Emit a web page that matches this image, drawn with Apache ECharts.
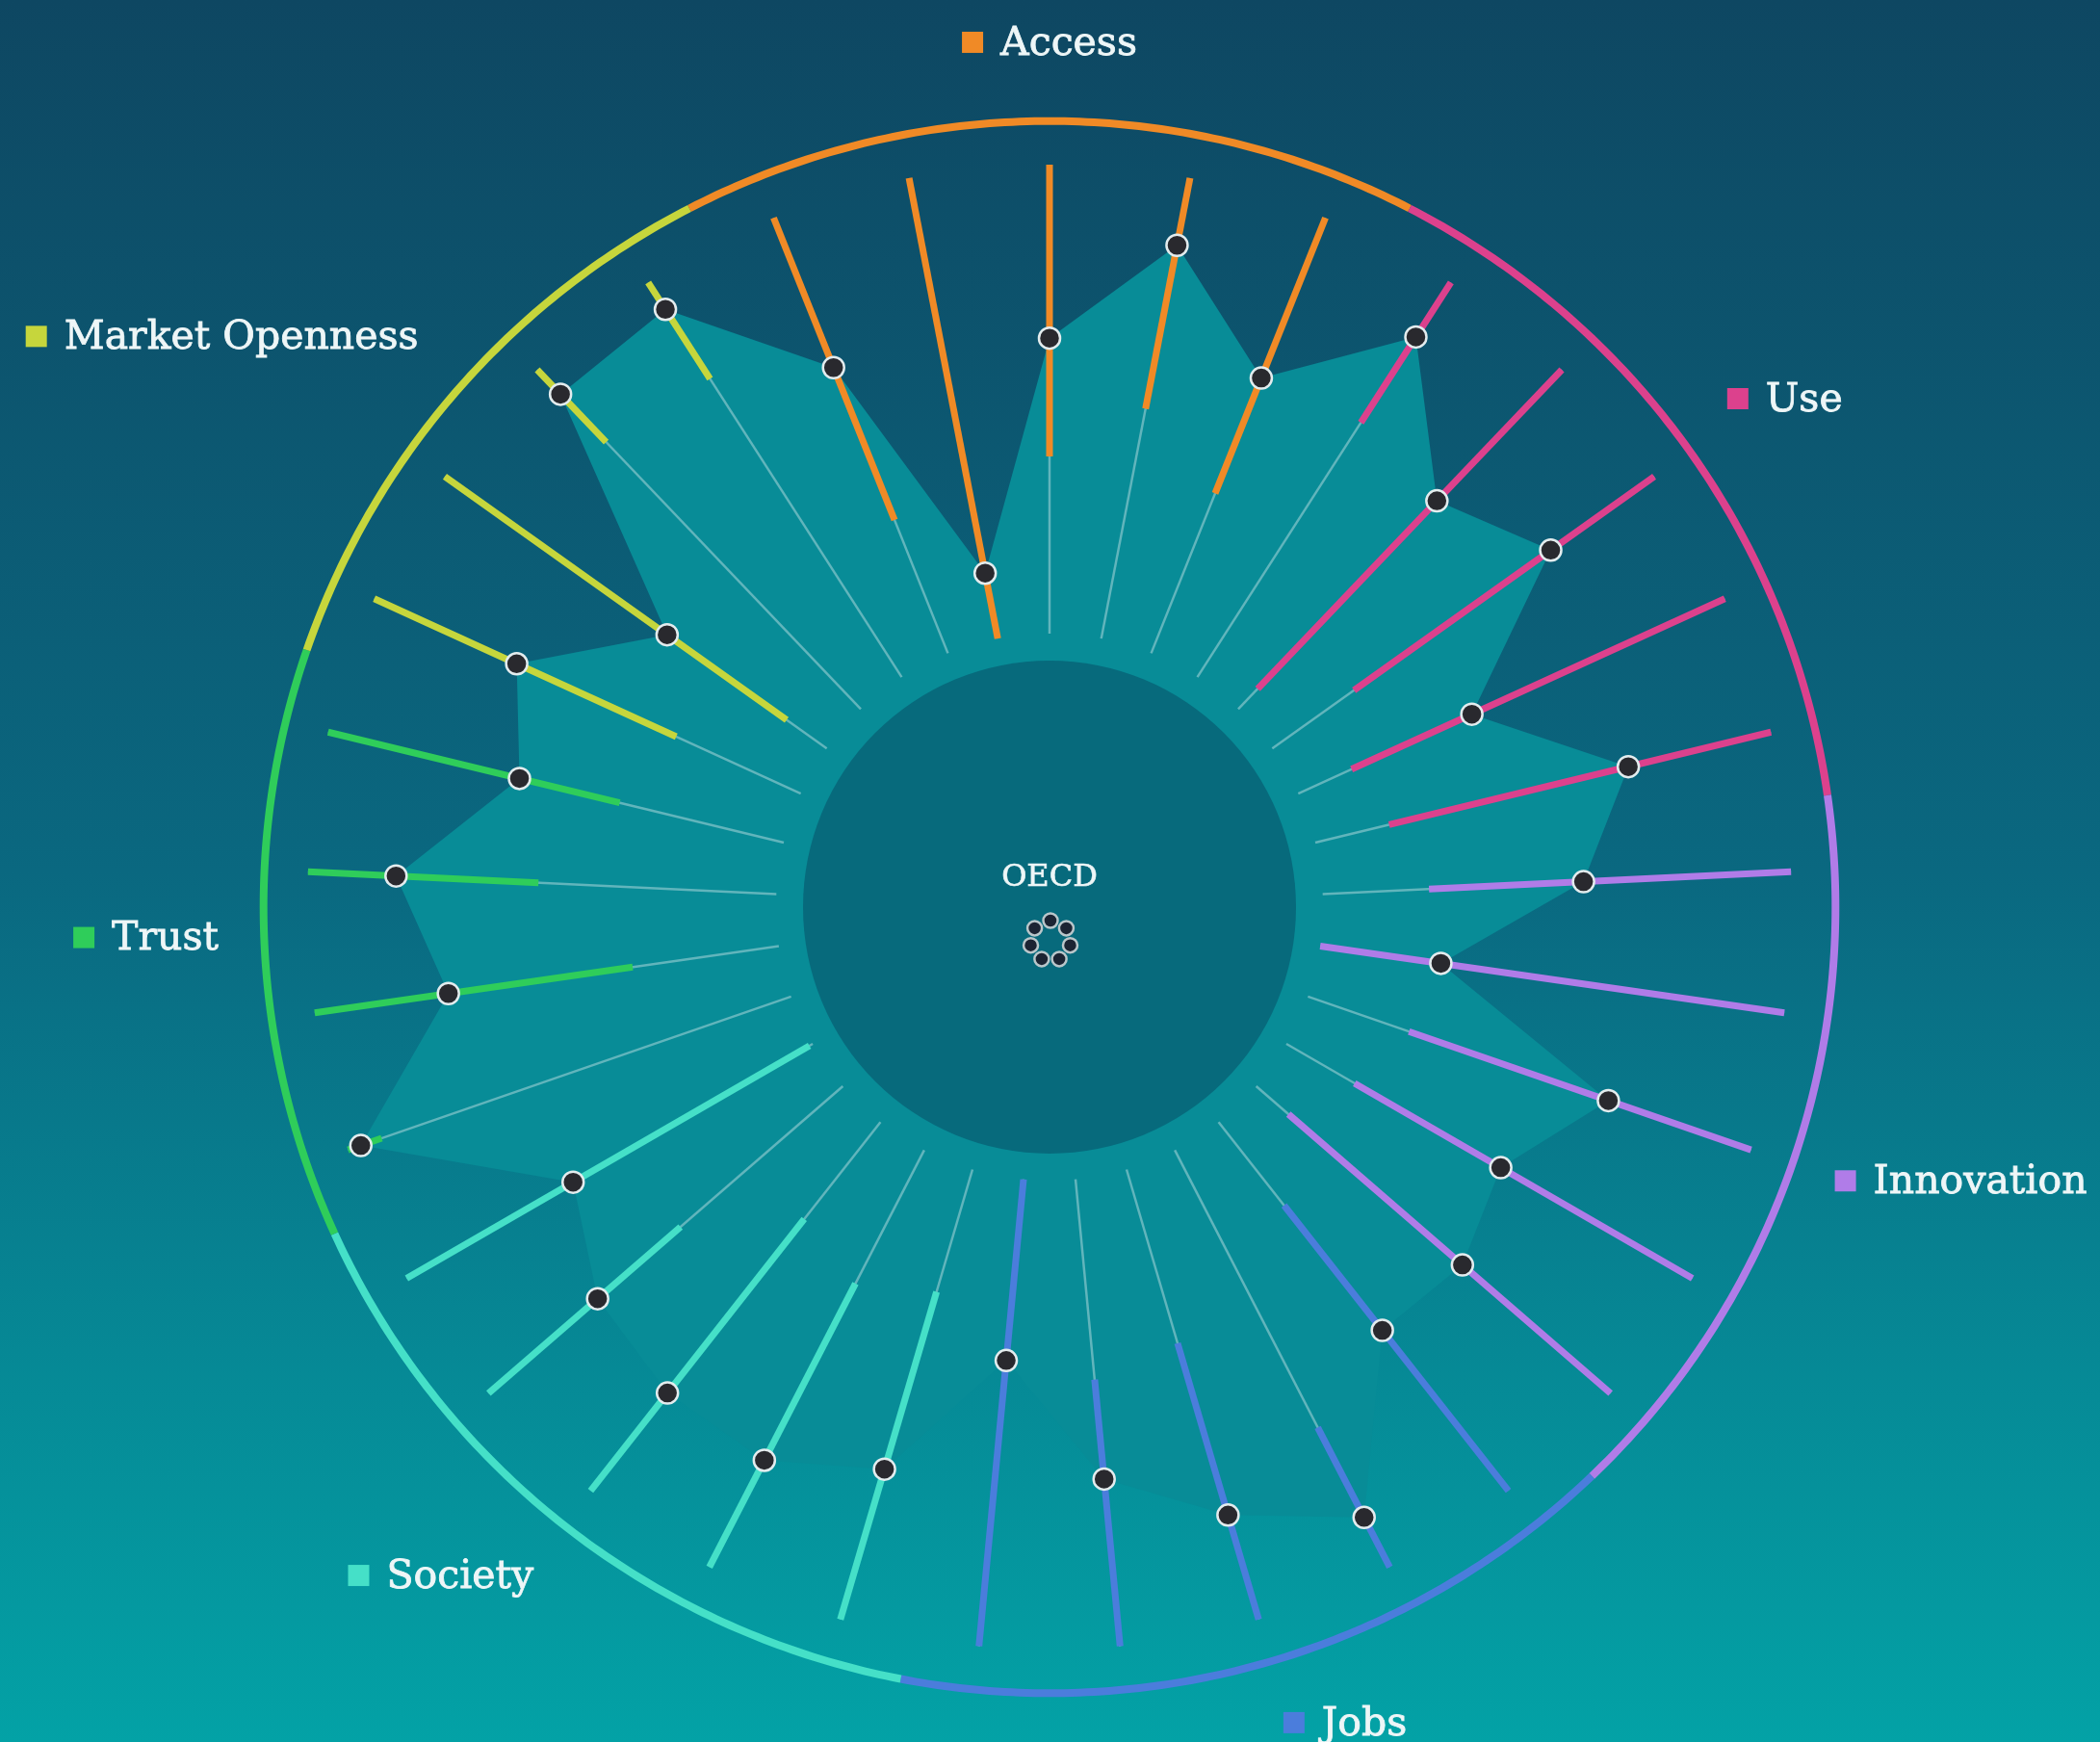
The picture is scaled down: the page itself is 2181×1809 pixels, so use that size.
<!DOCTYPE html>
<html><head><meta charset="utf-8">
<script src="https://cdn.jsdelivr.net/npm/echarts@6/dist/echarts.min.js"></script>
<style>html,body{margin:0;padding:0;width:2181px;height:1809px;overflow:hidden;}#c{width:2181px;height:1809px;}</style>
</head><body><div id="c"></div>
<script>
// ---- data ----
const dimensions = ['Access', 'Use', 'Innovation', 'Jobs', 'Society', 'Trust', 'Market Openness'];
const dimColors = ['#f08a26', '#dc418d', '#b07ce8', '#4b7ddc', '#45e0c8', '#2fcd5a', '#c6d63c'];
const dimCounts = [5, 5, 5, 5, 5, 4, 4];
// OECD value (dot) for each indicator, clockwise starting at first Access indicator
const oecdValues = [65.6, 14.2, 63.0, 85.4, 63.2,
                    86.2, 61.4, 72.9, 40.7, 68.7,
                    55.7, 26.0, 67.8, 52.8, 58.2,
                    56.5, 88.1, 76.8, 64.2, 38.8,
                    66.6, 74.4, 73.5, 69.2, 59.0,
                    97.1, 71.2, 81.2, 58.0,
                    66.6, 41.8, 92.8, 93.2];
// range of country values (coloured bars)
const minValues = [30.6, 0.0, 37.8, 49.9, 36.7,
                   64.5, 6.0, 21.4, 12.5, 16.2,
                   22.7, 0.0, 22.8, 16.8, 9.1,
                   22.6, 66.5, 38.6, 42.9, 0.0,
                   27.2, 32.0, 26.3, 45.8, 0.8,
                   92.4, 31.5, 50.8, 36.0,
                   29.2, 10.5, 78.7, 75.6];
const maxValues = [100, 100, 100, 100, 100,
                   100, 100, 100, 100, 100,
                   100, 100, 100, 100, 100,
                   100, 100, 100, 100, 100,
                   100, 100, 100, 100, 100,
                   100, 100, 100, 100,
                   100, 100, 100, 100];
const centerTitle = 'OECD';

// ---- layout (not data) ----
const N = oecdValues.length;
const dimOf = []; dimCounts.forEach((c, d) => { for (let k = 0; k < c; k++) dimOf.push(d); });
const dimStart = []; { let a = 0; dimCounts.forEach(c => { dimStart.push(a); a += c; }); }
const ringValue = 109.3;
const innerDiscValue = -5.75;
// label anchors: [radiusValue, angleValue, align]
const labelLayout = [[126.5, 2.0, 'center'], [122.6, 6.86, 'left'], [118.9, 12.0, 'left'], [122.2, 17.03, 'left'],
                     [121.4, 21.96, 'right'], [119.0, 26.57, 'right'], [123.4, 30.62, 'right']];
const LABEL_DY = 4;
const FONT = '"DejaVu Serif", "Liberation Serif", serif';
const LABEL_SIZE = 41;
const TEXT_COLOR = '#eef6f7';

const mctx = document.createElement('canvas').getContext('2d');
mctx.font = LABEL_SIZE + 'px ' + FONT;

const chart = echarts.init(document.getElementById('c'), null, { renderer: 'canvas', width: 2181, height: 1809 });

const option = {
  animation: false,
  backgroundColor: { type: 'linear', x: 0, y: 0, x2: 0, y2: 1,
    colorStops: [{ offset: 0, color: '#0e4762' }, { offset: 0.5, color: '#0a6880' }, { offset: 1, color: '#03a2a6' }] },
  polar: { center: [1090, 942], radius: [284, 771] },
  angleAxis: { type: 'value', min: 0, max: N, startAngle: 90 + 2 * 360 / N, clockwise: true, show: false,
    axisLine: { show: false }, axisTick: { show: false }, axisLabel: { show: false }, splitLine: { show: false } },
  radiusAxis: { type: 'value', min: 0, max: 100, show: false,
    axisLine: { show: false }, axisTick: { show: false }, axisLabel: { show: false }, splitLine: { show: false } },
  series: [
    { // radar polygon of OECD values
      type: 'custom', coordinateSystem: 'polar', silent: true, clip: false, z: 1,
      data: [[50, 0]],
      renderItem: (params, api) => {
        const pts = oecdValues.map((v, i) => api.coord([v, i]));
        return { type: 'polygon', shape: { points: pts }, style: { fill: '#088c97' } };
      }
    },
    { // inner disc with title and small heptagon icon
      type: 'custom', coordinateSystem: 'polar', silent: true, clip: false, z: 2,
      data: [[0, 0]],
      renderItem: (params, api) => {
        const cs = params.coordSys;
        const p = api.coord([innerDiscValue, 0]);
        const r = Math.hypot(p[0] - cs.cx, p[1] - cs.cy);
        const children = [
          { type: 'circle', shape: { cx: cs.cx, cy: cs.cy, r: r }, style: { fill: '#076a7c' } },
          { type: 'text', style: { x: cs.cx, y: cs.cy - 30, text: centerTitle, fill: TEXT_COLOR,
              stroke: TEXT_COLOR, lineWidth: 0.6, font: '32px ' + FONT, align: 'center', verticalAlign: 'middle' } }
        ];
        for (let j = 0; j < dimensions.length; j++) {
          const ang = j * 2 * Math.PI / dimensions.length;
          children.push({ type: 'circle', shape: { cx: cs.cx + 1 + 21 * Math.sin(ang), cy: cs.cy + 35 - 21 * Math.cos(ang), r: 7.5 },
            style: { fill: '#1c2433', stroke: '#b9c6ca', lineWidth: 2.5 } });
        }
        return { type: 'group', children: children };
      }
    },
    { // grey spokes
      type: 'custom', coordinateSystem: 'polar', silent: true, clip: false, z: 3,
      data: oecdValues.map((v, i) => [100, i]),
      renderItem: (params, api) => {
        const i = api.value(1);
        const a = api.coord([0, i]), b = api.coord([api.value(0), i]);
        return { type: 'line', shape: { x1: a[0], y1: a[1], x2: b[0], y2: b[1] },
          style: { stroke: 'rgba(185,222,226,0.5)', lineWidth: 2.5 } };
      }
    },
    { // coloured range bars
      type: 'custom', coordinateSystem: 'polar', silent: true, clip: false, z: 4,
      data: minValues.map((m, i) => [m, i, maxValues[i]]),
      renderItem: (params, api) => {
        const i = api.value(1);
        const a = api.coord([api.value(0), i]), b = api.coord([api.value(2), i]);
        return { type: 'line', shape: { x1: a[0], y1: a[1], x2: b[0], y2: b[1] },
          style: { stroke: dimColors[dimOf[i]], lineWidth: 7, lineCap: 'butt' } };
      }
    },
    { // outer ring arcs per dimension
      type: 'custom', coordinateSystem: 'polar', silent: true, clip: false, z: 4,
      data: dimensions.map((d, k) => [ringValue, dimStart[k]]),
      renderItem: (params, api) => {
        const k = params.dataIndex;
        const s = dimStart[k] - 0.5, e = dimStart[k] + dimCounts[k] - 0.5;
        const pts = [];
        for (let t = s; t <= e + 1e-9; t += 0.05) pts.push(api.coord([api.value(0), t]));
        return { type: 'polyline', shape: { points: pts },
          style: { stroke: dimColors[k], lineWidth: 8, fill: null, lineCap: 'butt' } };
      }
    },
    { // OECD points
      type: 'scatter', coordinateSystem: 'polar', clip: false, z: 6, silent: true,
      symbol: 'circle', symbolSize: 22,
      itemStyle: { color: '#29292e', borderColor: '#e3ecee', borderWidth: 2.5, opacity: 1 },
      data: oecdValues.map((v, i) => [v, i])
    },
    { // dimension labels
      type: 'custom', coordinateSystem: 'polar', silent: true, clip: false, z: 7,
      data: dimensions.map((d, k) => [labelLayout[k][0], labelLayout[k][1]]),
      renderItem: (params, api) => {
        const k = params.dataIndex;
        const p = api.coord([api.value(0), api.value(1)]);
        const y = p[1] + LABEL_DY;
        const w = mctx.measureText(dimensions[k]).width;
        const sq = 22, gap = 18, total = sq + gap + w;
        const mode = labelLayout[k][2];
        let left = p[0];
        if (mode === 'center') left = p[0] - total / 2;
        else if (mode === 'right') left = p[0] - total;
        return { type: 'group', children: [
          { type: 'rect', shape: { x: left, y: y - sq / 2 - 2, width: sq, height: sq }, style: { fill: dimColors[k] } },
          { type: 'text', style: { x: left + sq + gap, y: y, text: dimensions[k], fill: TEXT_COLOR,
              stroke: TEXT_COLOR, lineWidth: 0.8,
              font: LABEL_SIZE + 'px ' + FONT, align: 'left', verticalAlign: 'middle' } }
        ] };
      }
    }
  ]
};
chart.setOption(option);
</script>
</body></html>
